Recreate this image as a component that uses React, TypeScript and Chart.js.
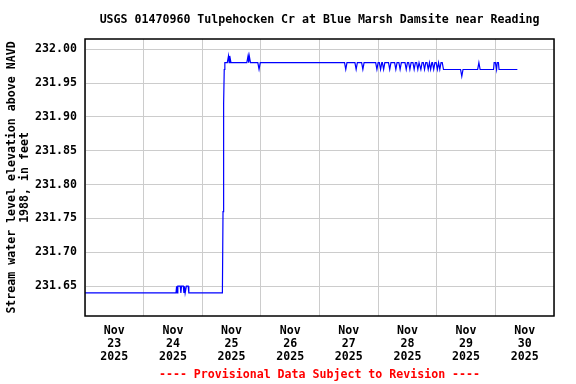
import { useEffect, useRef } from 'react';
import { Chart, registerables } from 'chart.js';

Chart.register(...registerables);

const TITLE = 'USGS 01470960 Tulpehocken Cr at Blue Marsh Damsite near Reading';
const FOOTER = '---- Provisional Data Subject to Revision ----';
const Y_TITLE = ['Stream water level elevation above NAVD', '1988, in feet'];
const MONTH = 'Nov';
const YEAR = '2025';
const DAY_LABELS = ['23', '24', '25', '26', '27', '28', '29', '30'];
// hours since Nov 23 2025 00:00
const X_TICK_HOURS = [0, 12, 24, 36, 48, 60, 72, 84, 96, 108, 120, 132, 144, 156, 168, 180, 192];
const Y_TICKS = [231.65, 231.7, 231.75, 231.8, 231.85, 231.9, 231.95, 232.0];
const X_MIN = 0;
const X_MAX = 192;
const Y_MIN = 231.606;
const Y_MAX = 232.015;

const HOURS = [
  0, 37.25, 37.5, 37.75, 38, 39, 39.25, 39.5, 40.25, 40.5, 40.75, 41, 41.5, 42.25, 42.5,
  56.25, 56.5, 56.75, 57, 57.25,
  58.25, 58.75, 59, 59.25, 59.75,
  66.25, 66.75, 67, 67.25, 67.75,
  70.75, 71.25, 71.75,
  106.25, 106.75, 107.25,
  110.5, 111, 111.5,
  113.25, 113.75, 114.25,
  119, 119.5, 120,
  120.5, 121, 121.5,
  121.75, 122.25, 122.75,
  124.25, 124.75, 125.25,
  126.75, 127.25, 127.75,
  128.5, 129, 129.5,
  131, 131.5, 132,
  132.5, 133, 133.5,
  134.25, 134.75, 135.25,
  135.75, 136.25, 136.75,
  137, 137.5, 138,
  138.5, 139, 139.5,
  140, 140.5, 141,
  141, 141.5, 142,
  142.25, 142.75, 143.25,
  143.75, 144.25, 144.75,
  145.25, 145.75, 146.25, 146.75,
  153.75, 154.25, 154.75,
  160.75, 161.25, 161.75,
  167.25, 167.5, 168, 168.5, 168.75, 169.25, 169.5,
  177,
];

const LEVELS = [
  231.64, 231.64, 231.65, 231.64, 231.65, 231.65, 231.64, 231.65, 231.65, 231.64, 231.65, 231.64, 231.65, 231.65, 231.64,
  231.64, 231.76, 231.92, 231.97, 231.98,
  231.98, 231.99, 231.98, 231.99, 231.98,
  231.98, 231.99, 231.98, 231.99, 231.98,
  231.98, 231.97, 231.98,
  231.98, 231.97, 231.98,
  231.98, 231.97, 231.98,
  231.98, 231.97, 231.98,
  231.98, 231.97, 231.98,
  231.98, 231.97, 231.98,
  231.98, 231.97, 231.98,
  231.98, 231.97, 231.98,
  231.98, 231.97, 231.98,
  231.98, 231.97, 231.98,
  231.98, 231.97, 231.98,
  231.98, 231.97, 231.98,
  231.98, 231.97, 231.98,
  231.98, 231.97, 231.98,
  231.98, 231.97, 231.98,
  231.98, 231.97, 231.98,
  231.98, 231.97, 231.98,
  231.98, 231.97, 231.98,
  231.98, 231.97, 231.98,
  231.98, 231.97, 231.98,
  231.97, 231.98, 231.98, 231.97,
  231.97, 231.96, 231.97,
  231.97, 231.98, 231.97,
  231.97, 231.98, 231.98, 231.97, 231.98, 231.98, 231.97,
  231.97,
];

const FONT_FAMILY = '"DejaVu Sans Mono", "Liberation Mono", monospace';
const FONT_SIZE = 11.6;

const framePlugin = {
  id: 'frameAndText',
  afterDraw(chart: any) {
    const { ctx, chartArea } = chart;
    const { left, top, right, bottom } = chartArea;
    ctx.save();
    ctx.strokeStyle = '#000000';
    ctx.lineWidth = 1.5;
    ctx.strokeRect(left, top, right - left, bottom - top);
    ctx.font = `bold ${FONT_SIZE}px ${FONT_FAMILY}`;
    ctx.textAlign = 'center';
    ctx.textBaseline = 'middle';
    ctx.fillStyle = '#000000';
    ctx.fillText(TITLE, (left + right) / 2, 20);
    ctx.fillStyle = '#ff0000';
    ctx.fillText(FOOTER, (left + right) / 2, 375);
    ctx.restore();
  },
};

export default function App() {
  const canvasRef = useRef<HTMLCanvasElement | null>(null);

  useEffect(() => {
    document.body.style.margin = '0';
    const canvas = canvasRef.current;
    if (!canvas) return;
    const font = { family: FONT_FAMILY, size: FONT_SIZE, weight: 'bold' as const, lineHeight: 1.15 };
    const chart = new Chart(canvas, {
      type: 'line',
      data: {
        datasets: [
          {
            data: HOURS.map((h, i) => ({ x: h, y: LEVELS[i] })),
            borderColor: '#0000ff',
            borderWidth: 1.2,
            pointRadius: 0,
            tension: 0,
            fill: false,
          },
        ],
      },
      options: {
        animation: false,
        responsive: false,
        layout: { padding: { top: 39, right: 22, left: 0, bottom: 0 } },
        plugins: {
          legend: { display: false },
          tooltip: { enabled: false },
          title: { display: false },
        },
        scales: {
          x: {
            type: 'linear',
            min: X_MIN,
            max: X_MAX,
            afterBuildTicks: (scale: any) => {
              scale.ticks = X_TICK_HOURS.map((v) => ({ value: v }));
            },
            afterFit: (scale: any) => {
              scale.height = 68;
            },
            border: { display: false },
            grid: {
              drawTicks: false,
              lineWidth: 1,
              color: (ctx: any) =>
                ctx.tick && ctx.tick.value % 24 === 0 ? '#cccccc' : 'rgba(0,0,0,0)',
            },
            ticks: {
              autoSkip: false,
              maxRotation: 0,
              minRotation: 0,
              padding: 8,
              color: '#000000',
              font,
              callback: (value: any) => {
                const v = Number(value);
                if (v % 24 === 12) {
                  return [MONTH, DAY_LABELS[(v - 12) / 24], YEAR];
                }
                return '';
              },
            },
          },
          y: {
            type: 'linear',
            min: Y_MIN,
            max: Y_MAX,
            afterBuildTicks: (scale: any) => {
              scale.ticks = Y_TICKS.map((v) => ({ value: v }));
            },
            afterFit: (scale: any) => {
              scale.width = 85;
            },
            border: { display: false },
            grid: { drawTicks: false, color: '#cccccc', lineWidth: 1 },
            ticks: {
              padding: 8,
              color: '#000000',
              font,
              callback: (value: any) => Number(value).toFixed(2),
            },
            title: {
              display: true,
              text: Y_TITLE,
              color: '#000000',
              font,
              padding: { top: 5, bottom: 0 },
            },
          },
        },
      },
      plugins: [framePlugin],
    });
    return () => chart.destroy();
  }, []);

  return <canvas ref={canvasRef} width={576} height={384} style={{ display: 'block' }} />;
}
